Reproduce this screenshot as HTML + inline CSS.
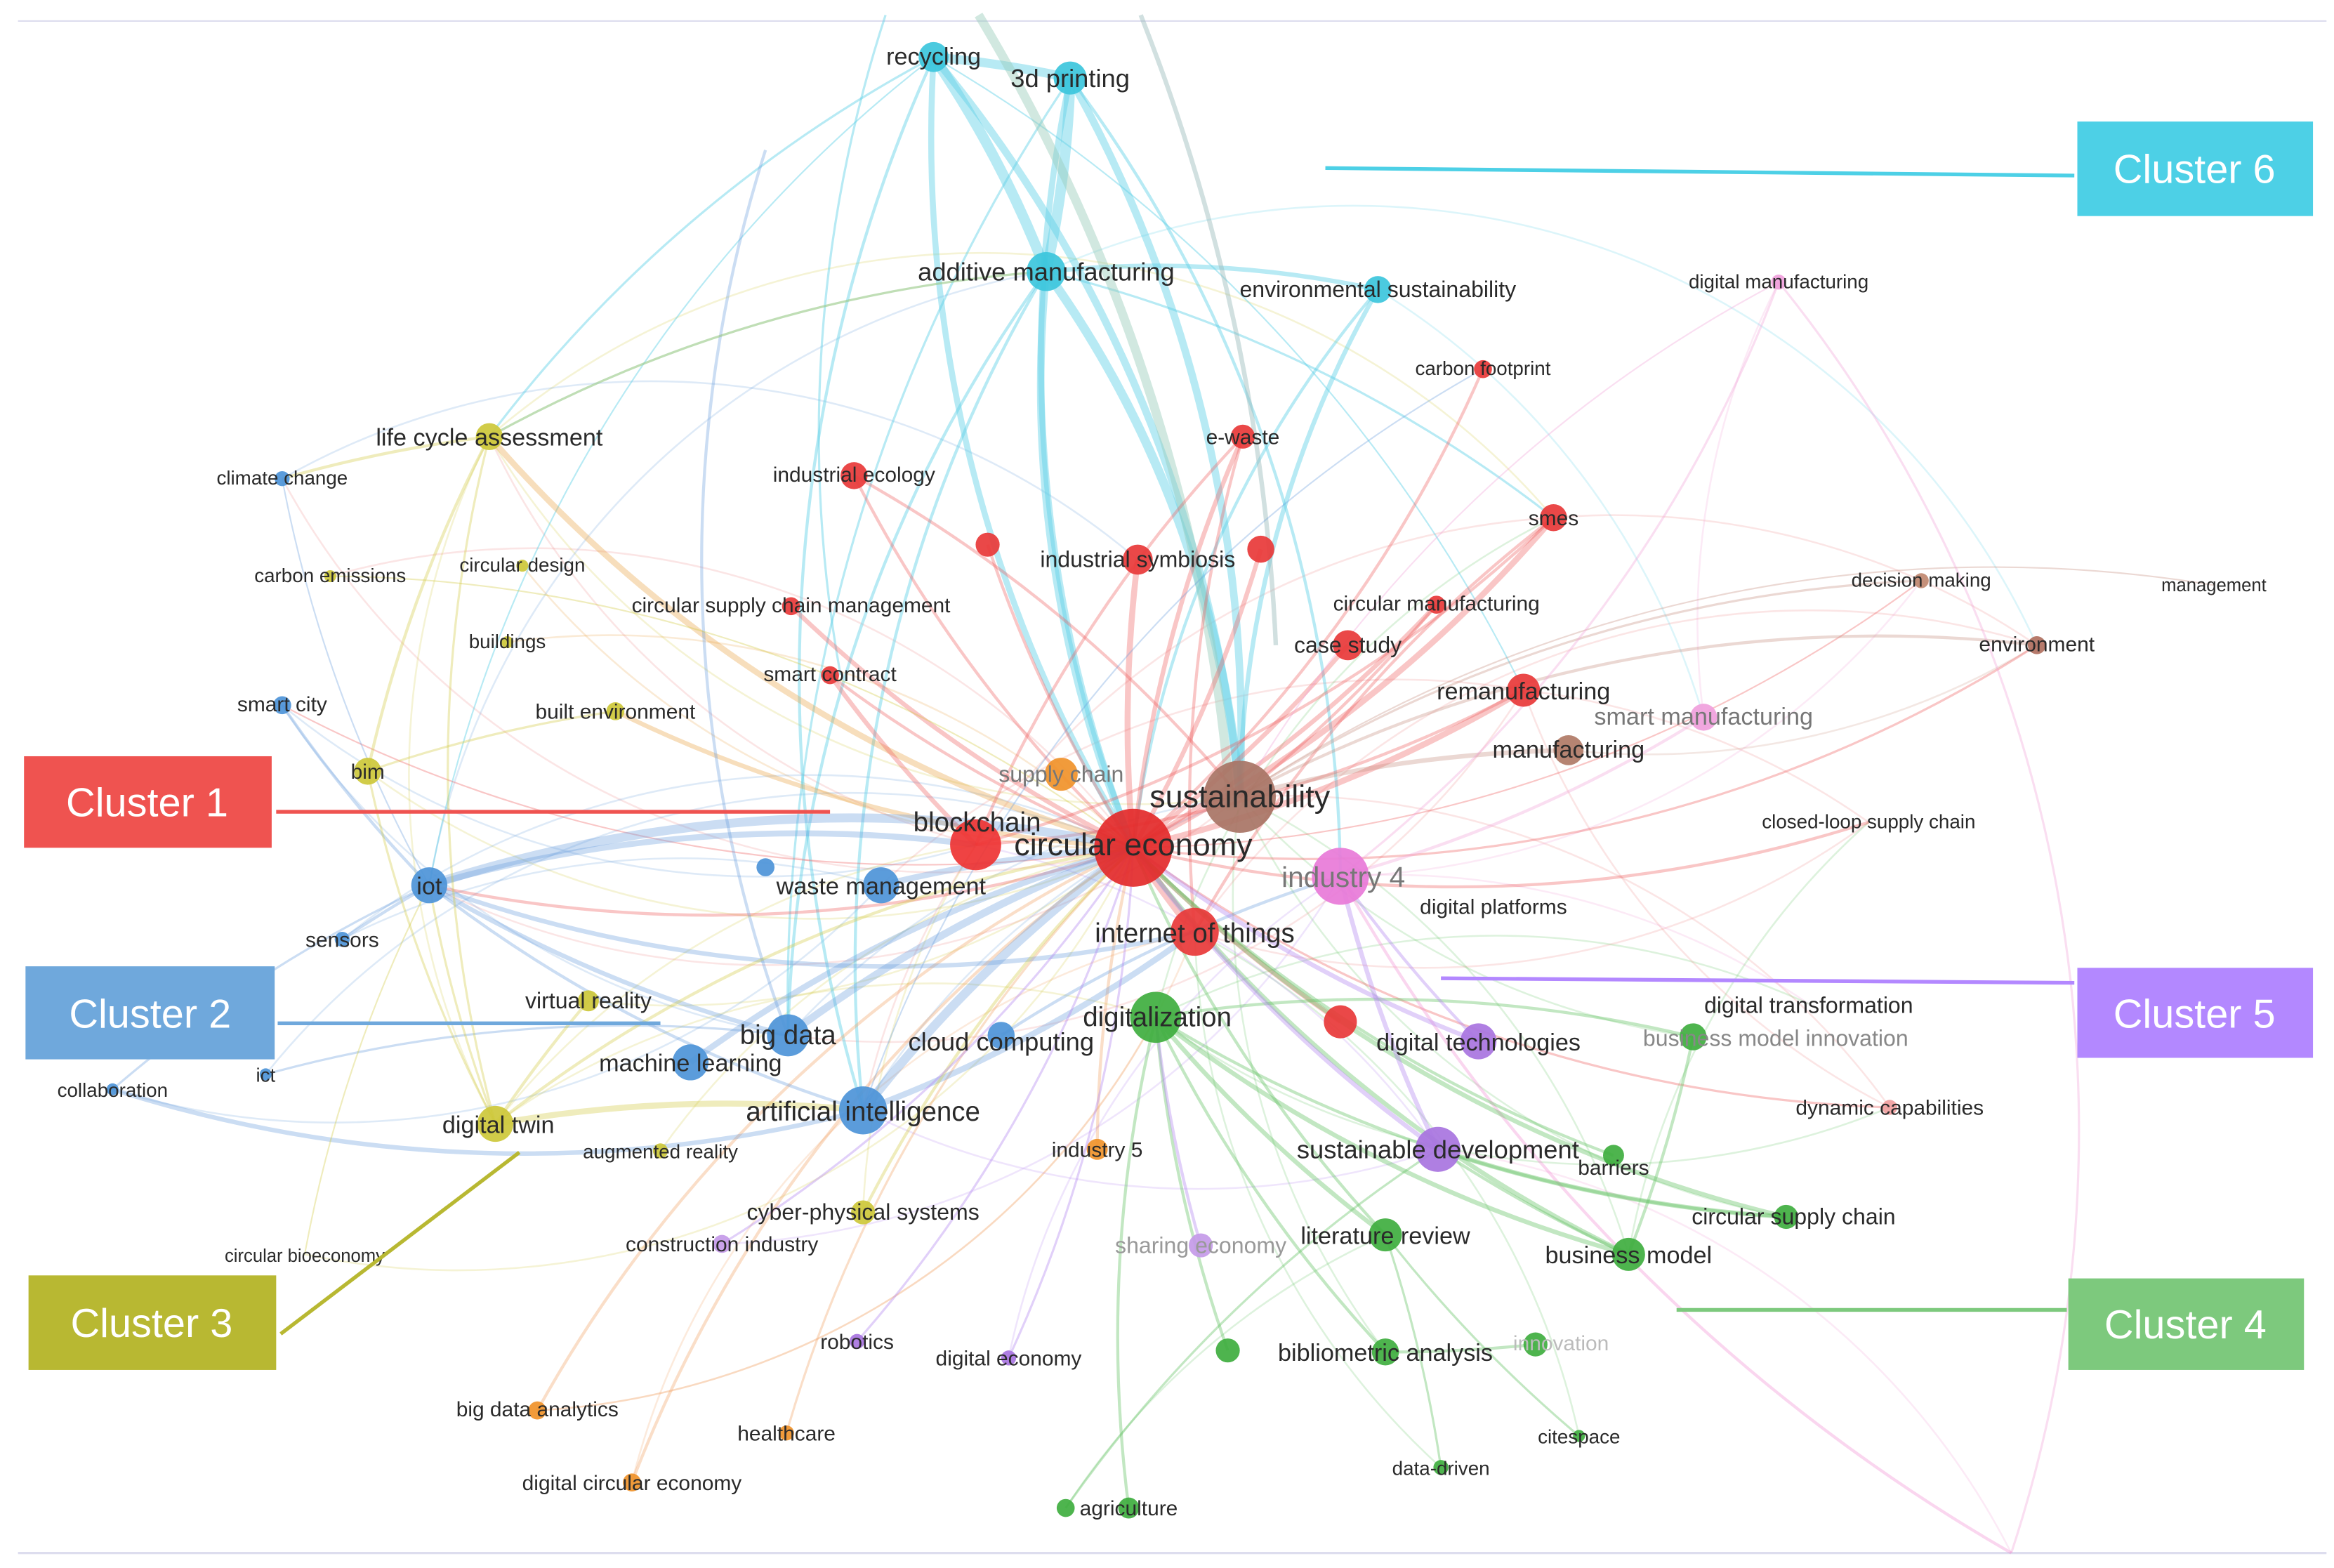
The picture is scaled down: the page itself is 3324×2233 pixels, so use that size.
<!DOCTYPE html>
<html><head><meta charset="utf-8"><style>
html,body{margin:0;padding:0;background:#fff;}
svg{display:block;}
text{font-family:"Liberation Sans",sans-serif;fill:#2a2a2a;text-anchor:middle;}
.e path{fill:none;}
</style></head><body>
<svg width="3324" height="2233" viewBox="0 0 1555 1045" preserveAspectRatio="none" xmlns="http://www.w3.org/2000/svg">
<rect width="1555" height="1045" fill="#fff"/>
<line x1="12" y1="14" x2="1550" y2="14" stroke="#dde" stroke-width="1"/>
<line x1="12" y1="1035" x2="1550" y2="1035" stroke="#dde" stroke-width="1.5"/>

<!-- extra haze edges -->
<g class="e" stroke-opacity=".22" stroke-width="1.2">
<path d="M755 565 A500 500 0 0 1 188 319" stroke="#e88"/>
<path d="M755 565 A500 500 0 0 0 220 384" stroke="#e88"/>
<path d="M755 565 A500 500 0 0 1 348 377" stroke="#e8a040"/>
<path d="M755 565 A500 500 0 0 0 338 428" stroke="#e8a040"/>
<path d="M755 565 A500 500 0 0 1 245 514" stroke="#d0c840"/>
<path d="M755 565 A500 500 0 0 0 228 626" stroke="#6a9fdc"/>
<path d="M755 565 A500 500 0 0 1 392 667" stroke="#d0c840"/>
<path d="M755 565 A500 500 0 0 0 177 716" stroke="#6a9fdc"/>
<path d="M755 565 A500 500 0 0 1 203 836" stroke="#d0c840"/>
<path d="M755 565 A500 500 0 0 0 440 767" stroke="#d0c840"/>
<path d="M826 531 A500 500 0 0 1 286 590" stroke="#e88"/>
<path d="M826 531 A500 500 0 0 0 525 690" stroke="#6a9fdc"/>
<path d="M826 531 A500 500 0 0 0 575 740" stroke="#6a9fdc"/>
<path d="M826 531 A500 500 0 0 1 326 291" stroke="#d0c840"/>
<path d="M826 531 A500 500 0 0 0 1190 811" stroke="#66c266"/>
<path d="M826 531 A500 500 0 0 1 1085 836" stroke="#66c266"/>
<path d="M826 531 A500 500 0 0 0 923 901" stroke="#66c266"/>
<path d="M826 531 A500 500 0 0 1 1259 738" stroke="#e88"/>
<path d="M826 531 A500 500 0 0 0 1128 691" stroke="#66c266"/>
<path d="M796 621 A500 500 0 0 1 1357 430" stroke="#e88"/>
<path d="M796 621 A500 500 0 0 0 1245 548" stroke="#e88"/>
<path d="M796 621 A500 500 0 0 1 358 940" stroke="#f0a060"/>
<path d="M796 621 A500 500 0 0 0 421 988" stroke="#f0a060"/>
<path d="M796 621 A500 500 0 0 1 1052 957" stroke="#66c266"/>
<path d="M796 621 A500 500 0 0 0 960 978" stroke="#66c266"/>
<path d="M893 584 A500 500 0 0 1 1205 669" stroke="#f0a0d8"/>
<path d="M893 584 A500 500 0 0 0 1280 387" stroke="#f0a0d8"/>
<path d="M893 584 A500 500 0 0 1 481 829" stroke="#b58af0"/>
<path d="M893 584 A500 500 0 0 0 672 905" stroke="#b58af0"/>
<path d="M650 563 A500 500 0 0 1 188 470" stroke="#6a9fdc"/>
<path d="M650 563 A500 500 0 0 0 330 749" stroke="#d0c840"/>
<path d="M650 563 A500 500 0 0 1 326 291" stroke="#e88"/>
<path d="M650 563 A500 500 0 0 0 575 808" stroke="#d0c840"/>
<path d="M650 563 A500 500 0 0 1 958 766" stroke="#b58af0"/>
<path d="M587 590 A500 500 0 0 1 1015 460" stroke="#e88"/>
<path d="M587 590 A500 500 0 0 0 228 626" stroke="#6a9fdc"/>
<path d="M587 590 A500 500 0 0 1 75 726" stroke="#6a9fdc"/>
<path d="M525 690 A500 500 0 0 1 188 470" stroke="#6a9fdc"/>
<path d="M525 690 A500 500 0 0 0 1015 460" stroke="#e88"/>
<path d="M575 740 A500 500 0 0 1 1035 345" stroke="#e88"/>
<path d="M575 740 A500 500 0 0 0 958 766" stroke="#b58af0"/>
<path d="M770 678 A500 500 0 0 1 1035 345" stroke="#66c266"/>
<path d="M770 678 A500 500 0 0 1 1205 669" stroke="#66c266"/>
<path d="M770 678 A500 500 0 0 0 1259 738" stroke="#66c266"/>
<path d="M770 678 A500 500 0 0 1 358 940" stroke="#f0a060"/>
<path d="M770 678 A500 500 0 0 0 330 749" stroke="#d0c840"/>
<path d="M1015 460 A500 500 0 0 1 1245 548" stroke="#e88"/>
<path d="M1015 460 A500 500 0 0 0 1259 738" stroke="#e88"/>
<path d="M1035 345 A500 500 0 0 1 1357 430" stroke="#e88"/>
<path d="M1045 500 A500 500 0 0 0 1357 430" stroke="#c79080"/>
<path d="M1185 188 A500 500 0 0 0 1135 478" stroke="#f0a0d8"/>
<path d="M918 193 A500 500 0 0 1 1135 478" stroke="#5fd0e6"/>
<path d="M697 181 A500 500 0 0 1 1357 430" stroke="#5fd0e6"/>
<path d="M326 291 A500 500 0 0 1 1035 345" stroke="#d0c840"/>
<path d="M188 319 A500 500 0 0 1 758 373" stroke="#6a9fdc"/>
<path d="M286 590 A500 500 0 0 1 697 181" stroke="#6a9fdc"/>
<path d="M330 749 A500 500 0 0 1 326 291" stroke="#d0c840"/>
<path d="M958 766 A500 500 0 0 1 1340 1035" stroke="#f0a0d8"/>
<path d="M923 823 A500 500 0 0 0 710 1005" stroke="#66c266"/>
<path d="M1085 836 A500 500 0 0 1 1245 548" stroke="#66c266"/>
</g>

<!-- cyan edges -->
<g class="e" stroke="#5fd0e6" stroke-opacity=".45">
<path d="M622 38 A700 700 0 0 1 713 52" stroke-width="6"/>
<path d="M622 38 A700 700 0 0 1 697 181" stroke-width="7"/>
<path d="M713 52 A700 700 0 0 1 697 181" stroke-width="7"/>
<path d="M622 38 A900 900 0 0 1 826 531" stroke-width="5"/>
<path d="M713 52 A900 900 0 0 1 826 531" stroke-width="5"/>
<path d="M697 181 A700 700 0 0 1 826 531" stroke-width="6"/>
<path d="M622 38 A900 900 0 0 0 755 565" stroke-width="4"/>
<path d="M713 52 A900 900 0 0 0 755 565" stroke-width="4"/>
<path d="M697 181 A800 800 0 0 0 755 565" stroke-width="5"/>
<path d="M697 181 A700 700 0 0 1 918 193" stroke-width="3"/>
<path d="M918 193 A700 700 0 0 0 826 531" stroke-width="3"/>
<path d="M918 193 A700 700 0 0 0 755 565" stroke-width="2"/>
<path d="M622 38 A900 900 0 0 0 326 291" stroke-width="1.5"/>
<path d="M622 38 A900 900 0 0 0 286 590" stroke-width="1"/>
<path d="M713 52 A900 900 0 0 1 893 584" stroke-width="2"/>
<path d="M697 181 A900 900 0 0 0 525 690" stroke-width="2"/>
<path d="M697 181 A900 900 0 0 0 575 740" stroke-width="2"/>
<path d="M622 38 A1000 1000 0 0 0 575 740" stroke-width="2"/>
<path d="M713 52 A1100 1100 0 0 0 525 690" stroke-width="1.5"/>
<path d="M697 181 A900 900 0 0 1 1035 345" stroke-width="1.5"/>
<path d="M697 181 A900 900 0 0 0 326 291" stroke-width="1.5"/>
<path d="M622 38 A1000 1000 0 0 1 1015 460" stroke-width="1"/>
<path d="M652 10 A1200 1200 0 0 1 820 540" stroke="#9cb" stroke-width="6"/>
<path d="M760 10 A1300 1300 0 0 1 850 430" stroke="#9bb" stroke-width="3"/>
<path d="M590 10 A900 900 0 0 0 560 450" stroke-width="1.5"/>
</g>
<!-- red edges -->
<g class="e" stroke="#ee5b5b" stroke-opacity=".35">
<path d="M755 565 A900 900 0 0 1 828 291" stroke-width="3"/>
<path d="M755 565 A900 900 0 0 1 569 317" stroke-width="2"/>
<path d="M755 565 A900 900 0 0 1 758 373" stroke-width="4"/>
<path d="M755 565 A900 900 0 0 1 658 363" stroke-width="2"/>
<path d="M755 565 A900 900 0 0 0 840 366" stroke-width="3"/>
<path d="M755 565 A900 900 0 0 0 1035 345" stroke-width="4"/>
<path d="M755 565 A900 900 0 0 0 988 246" stroke-width="2"/>
<path d="M755 565 A900 900 0 0 0 957 403" stroke-width="3"/>
<path d="M755 565 A900 900 0 0 0 898 430" stroke-width="3"/>
<path d="M755 565 A900 900 0 0 0 1015 460" stroke-width="4"/>
<path d="M755 565 A900 900 0 0 1 553 450" stroke-width="2"/>
<path d="M755 565 A900 900 0 0 1 527 404" stroke-width="3"/>
<path d="M755 565 A900 900 0 0 1 326 291" stroke="#e8a040" stroke-width="4"/>
<path d="M755 565 A900 900 0 0 1 410 474" stroke="#e8a040" stroke-width="3"/>
<path d="M755 565 A900 900 0 0 0 796 621" stroke-width="6"/>
<path d="M755 565 A900 900 0 0 0 893 681" stroke-width="3"/>
<path d="M755 565 A900 900 0 0 0 1245 548" stroke-width="2"/>
<path d="M755 565 A900 900 0 0 0 1357 430" stroke-width="1.5"/>
<path d="M755 565 A900 900 0 0 0 1280 387" stroke-width="1"/>
<path d="M755 565 A900 900 0 0 0 1259 738" stroke-width="1.5"/>
<path d="M755 565 A900 900 0 0 1 286 590" stroke-width="2"/>
<path d="M755 565 A900 900 0 0 1 188 470" stroke-width="1"/>
<path d="M755 565 A900 900 0 0 0 358 940" stroke="#f0a060" stroke-width="2"/>
<path d="M755 565 A900 900 0 0 0 421 988" stroke="#f0a060" stroke-width="2"/>
<path d="M755 565 A900 900 0 0 0 524 955" stroke="#f0a060" stroke-width="1.5"/>
<path d="M755 565 A900 900 0 0 0 731 766" stroke="#f0a060" stroke-width="2"/>
<path d="M650 563 A900 900 0 0 1 553 450" stroke-width="3"/>
<path d="M650 563 A900 900 0 0 0 1015 460" stroke-width="2"/>
<path d="M650 563 A900 900 0 0 1 828 291" stroke-width="2"/>
<path d="M650 563 A900 900 0 0 0 1035 345" stroke-width="2"/>
<path d="M796 621 A900 900 0 0 1 1035 345" stroke-width="2"/>
<path d="M796 621 A900 900 0 0 1 828 291" stroke-width="2"/>
<path d="M826 531 A900 900 0 0 1 1357 430" stroke="#c79080" stroke-width="2"/>
<path d="M826 531 A900 900 0 0 1 1280 387" stroke="#c79080" stroke-width="1.5"/>
<path d="M826 531 A900 900 0 0 1 1475 390" stroke="#c79080" stroke-width="1"/>
<path d="M826 531 A900 900 0 0 1 1045 500" stroke="#c79080" stroke-width="3"/>
<path d="M826 531 A900 900 0 0 0 569 317" stroke-width="2"/>
<path d="M826 531 A900 900 0 0 0 957 403" stroke-width="2"/>
<path d="M826 531 A900 900 0 0 1 1185 188" stroke="#f0a0d8" stroke-width="1"/>
<path d="M893 584 A900 900 0 0 0 1185 188" stroke="#f0a0d8" stroke-width="1.5"/>
<path d="M893 584 A900 900 0 0 0 1135 478" stroke="#f0a0d8" stroke-width="2"/>
<path d="M893 584 A1200 1200 0 0 0 1340 1035" stroke="#f08ad0" stroke-width="2"/>
<path d="M1185 188 A900 900 0 0 1 1340 1035" stroke="#f0a0d8" stroke-width="1.5"/>
</g>
<!-- blue / yellow edges -->
<g class="e" stroke="#6a9fdc" stroke-opacity=".35">
<path d="M286 590 A900 900 0 0 1 755 565" stroke-width="6"/>
<path d="M286 590 A900 900 0 0 1 650 563" stroke-width="4"/>
<path d="M286 590 A900 900 0 0 0 525 690" stroke-width="3"/>
<path d="M286 590 A900 900 0 0 0 575 740" stroke-width="2"/>
<path d="M286 590 A900 900 0 0 1 188 470" stroke-width="2"/>
<path d="M286 590 A900 900 0 0 0 228 626" stroke-width="2"/>
<path d="M286 590 A900 900 0 0 0 796 621" stroke-width="3"/>
<path d="M286 590 A900 900 0 0 1 188 319" stroke-width="1"/>
<path d="M75 726 A900 900 0 0 0 575 740" stroke-width="3"/>
<path d="M75 726 A900 900 0 0 1 286 590" stroke-width="1.5"/>
<path d="M177 716 A900 900 0 0 1 525 690" stroke-width="1.5"/>
<path d="M525 690 A900 900 0 0 1 755 565" stroke-width="5"/>
<path d="M575 740 A900 900 0 0 1 755 565" stroke-width="6"/>
<path d="M460 708 A900 900 0 0 1 755 565" stroke-width="4"/>
<path d="M575 740 A900 900 0 0 0 796 621" stroke-width="4"/>
<path d="M587 590 A900 900 0 0 1 755 565" stroke-width="4"/>
<path d="M525 690 A900 900 0 0 1 510 100" stroke-width="2"/>
<path d="M575 740 A900 900 0 0 1 988 246" stroke-width="1"/>
<path d="M667 690 A900 900 0 0 1 893 584" stroke-width="2"/>
<path d="M330 749 A900 900 0 0 1 575 740" stroke="#d0c840" stroke-width="4"/>
<path d="M330 749 A900 900 0 0 1 392 667" stroke="#d0c840" stroke-width="2"/>
<path d="M330 749 A900 900 0 0 1 755 565" stroke="#d0c840" stroke-width="2"/>
<path d="M330 749 A900 900 0 0 1 286 590" stroke="#d0c840" stroke-width="1.5"/>
<path d="M326 291 A900 900 0 0 0 188 319" stroke="#d0c840" stroke-width="2"/>
<path d="M326 291 A900 900 0 0 0 245 514" stroke="#d0c840" stroke-width="2"/>
<path d="M326 291 A900 900 0 0 0 330 749" stroke="#d0c840" stroke-width="1.5"/>
<path d="M245 514 A900 900 0 0 0 330 749" stroke="#d0c840" stroke-width="1.5"/>
<path d="M245 514 A900 900 0 0 1 410 474" stroke="#d0c840" stroke-width="1.5"/>
<path d="M326 291 A900 900 0 0 1 697 181" stroke="#d0c840" stroke-width="1.5"/>
<path d="M220 384 A900 900 0 0 1 755 565" stroke="#d0c840" stroke-width="1"/>
<path d="M203 836 A900 900 0 0 1 286 590" stroke="#d0c840" stroke-width="1"/>
<path d="M575 808 A900 900 0 0 1 755 565" stroke="#d0c840" stroke-width="2"/>
</g>
<!-- green / purple edges -->
<g class="e" stroke="#66c266" stroke-opacity=".4">
<path d="M770 678 A900 900 0 0 0 923 823" stroke-width="3"/>
<path d="M770 678 A900 900 0 0 0 923 901" stroke-width="2"/>
<path d="M770 678 A900 900 0 0 0 1085 836" stroke-width="3"/>
<path d="M770 678 A900 900 0 0 0 1190 811" stroke-width="2"/>
<path d="M770 678 A900 900 0 0 1 1128 691" stroke-width="2"/>
<path d="M770 678 A900 900 0 0 0 752 1005" stroke-width="2"/>
<path d="M770 678 A900 900 0 0 0 818 900" stroke-width="2"/>
<path d="M755 565 A900 900 0 0 0 923 823" stroke-width="2"/>
<path d="M755 565 A900 900 0 0 0 1085 836" stroke-width="3"/>
<path d="M755 565 A900 900 0 0 0 1190 811" stroke-width="3"/>
<path d="M755 565 A900 900 0 0 0 1075 770" stroke-width="2"/>
<path d="M923 823 A900 900 0 0 0 1052 957" stroke-width="1.5"/>
<path d="M923 823 A900 900 0 0 1 960 978" stroke-width="1.5"/>
<path d="M923 901 A900 900 0 0 0 1023 896" stroke-width="2"/>
<path d="M958 766 A900 900 0 0 0 1190 811" stroke-width="3"/>
<path d="M958 766 A900 900 0 0 0 1085 836" stroke-width="2"/>
<path d="M1085 836 A900 900 0 0 0 1128 691" stroke-width="2"/>
<path d="M958 766 A900 900 0 0 0 710 1005" stroke-width="1.5"/>
<path d="M755 565 A900 900 0 0 0 985 694" stroke="#b58af0" stroke-width="3"/>
<path d="M755 565 A900 900 0 0 0 958 766" stroke="#b58af0" stroke-width="3"/>
<path d="M893 584 A900 900 0 0 0 958 766" stroke="#b58af0" stroke-width="3"/>
<path d="M893 584 A900 900 0 0 0 985 694" stroke="#b58af0" stroke-width="2"/>
<path d="M770 678 A900 900 0 0 0 800 830" stroke="#b58af0" stroke-width="2"/>
<path d="M755 565 A900 900 0 0 1 481 829" stroke="#b58af0" stroke-width="1.5"/>
<path d="M755 565 A900 900 0 0 1 571 894" stroke="#b58af0" stroke-width="1.5"/>
<path d="M755 565 A900 900 0 0 1 672 905" stroke="#b58af0" stroke-width="1.5"/>
</g>

<!-- nodes -->
<g fill-opacity=".92">
<circle cx="622" cy="38" r="10" fill="#3cc6dc"/>
<circle cx="713" cy="52" r="11" fill="#3cc6dc"/>
<circle cx="697" cy="181" r="13" fill="#3cc6dc"/>
<circle cx="918" cy="193" r="9" fill="#3cc6dc"/>
<circle cx="1185" cy="188" r="5" fill="#f0a0dc"/>
<circle cx="988" cy="246" r="6" fill="#e83838"/>
<circle cx="828" cy="291" r="8" fill="#e83838"/>
<circle cx="569" cy="317" r="9" fill="#e83838"/>
<circle cx="326" cy="291" r="9" fill="#cdc83a"/>
<circle cx="188" cy="319" r="5" fill="#4d94d8"/>
<circle cx="220" cy="384" r="4" fill="#cdc83a"/>
<circle cx="348" cy="377" r="4" fill="#cdc83a"/>
<circle cx="338" cy="428" r="4" fill="#cdc83a"/>
<circle cx="527" cy="404" r="6" fill="#e83838"/>
<circle cx="658" cy="363" r="8" fill="#e83838"/>
<circle cx="758" cy="373" r="10" fill="#e83838"/>
<circle cx="840" cy="366" r="9" fill="#e83838"/>
<circle cx="1035" cy="345" r="9" fill="#e83838"/>
<circle cx="1280" cy="387" r="5" fill="#c08870"/>
<circle cx="1357" cy="430" r="6" fill="#b07060"/>
<circle cx="957" cy="403" r="6" fill="#e83838"/>
<circle cx="898" cy="430" r="10" fill="#e83838"/>
<circle cx="553" cy="450" r="6" fill="#e83838"/>
<circle cx="188" cy="470" r="6" fill="#4d94d8"/>
<circle cx="410" cy="474" r="6" fill="#cdc83a"/>
<circle cx="1015" cy="460" r="11" fill="#e83838"/>
<circle cx="1135" cy="478" r="9" fill="#f0a0dc"/>
<circle cx="1045" cy="500" r="10" fill="#b07a66"/>
<circle cx="245" cy="514" r="9" fill="#cdc83a"/>
<circle cx="707" cy="516" r="11" fill="#f0922a"/>
<circle cx="826" cy="531" r="24" fill="#a87465"/>
<circle cx="650" cy="563" r="17" fill="#e33"/>
<circle cx="755" cy="565" r="26" fill="#e32a2a"/>
<circle cx="893" cy="584" r="19" fill="#e87ad8"/>
<circle cx="286" cy="590" r="12" fill="#4d94d8"/>
<circle cx="510" cy="578" r="6" fill="#4d94d8"/>
<circle cx="587" cy="590" r="12" fill="#4d94d8"/>
<circle cx="228" cy="626" r="5" fill="#4d94d8"/>
<circle cx="796" cy="621" r="16" fill="#e83838"/>
<circle cx="392" cy="667" r="7" fill="#cdc83a"/>
<circle cx="525" cy="690" r="14" fill="#4d94d8"/>
<circle cx="667" cy="690" r="9" fill="#4d94d8"/>
<circle cx="770" cy="678" r="17" fill="#3fae3f"/>
<circle cx="893" cy="681" r="11" fill="#e83838"/>
<circle cx="985" cy="694" r="12" fill="#a874e0"/>
<circle cx="1128" cy="691" r="9" fill="#3fae3f"/>
<circle cx="460" cy="708" r="12" fill="#4d94d8"/>
<circle cx="177" cy="716" r="4" fill="#4d94d8"/>
<circle cx="75" cy="726" r="4" fill="#4d94d8"/>
<circle cx="575" cy="740" r="16" fill="#4d94d8"/>
<circle cx="330" cy="749" r="12" fill="#cdc83a"/>
<circle cx="1259" cy="738" r="5" fill="#f0a0a0"/>
<circle cx="440" cy="767" r="5" fill="#cdc83a"/>
<circle cx="731" cy="766" r="7" fill="#f0922a"/>
<circle cx="958" cy="766" r="15" fill="#a874e0"/>
<circle cx="1075" cy="770" r="7" fill="#3fae3f"/>
<circle cx="575" cy="808" r="8" fill="#cdc83a"/>
<circle cx="481" cy="829" r="6" fill="#c49ae8"/>
<circle cx="800" cy="830" r="8" fill="#c49ae8"/>
<circle cx="923" cy="823" r="11" fill="#3fae3f"/>
<circle cx="1190" cy="811" r="8" fill="#3fae3f"/>
<circle cx="1085" cy="836" r="11" fill="#3fae3f"/>
<circle cx="571" cy="894" r="5" fill="#a874e0"/>
<circle cx="672" cy="905" r="5" fill="#a874e0"/>
<circle cx="818" cy="900" r="8" fill="#3fae3f"/>
<circle cx="923" cy="901" r="9" fill="#3fae3f"/>
<circle cx="1023" cy="896" r="8" fill="#3fae3f"/>
<circle cx="358" cy="940" r="6" fill="#f0922a"/>
<circle cx="524" cy="955" r="5" fill="#f0922a"/>
<circle cx="1052" cy="957" r="4" fill="#3fae3f"/>
<circle cx="960" cy="978" r="5" fill="#3fae3f"/>
<circle cx="421" cy="988" r="6" fill="#f0922a"/>
<circle cx="752" cy="1005" r="7" fill="#3fae3f"/>
<circle cx="710" cy="1005" r="6" fill="#3fae3f"/>
</g>

<!-- labels -->
<g>
<text x="622" y="43" font-size="16">recycling</text>
<text x="713" y="58" font-size="17">3d printing</text>
<text x="697" y="187" font-size="17">additive manufacturing</text>
<text x="918" y="198" font-size="15">environmental sustainability</text>
<text x="1185" y="192" font-size="13">digital manufacturing</text>
<text x="988" y="250" font-size="13">carbon footprint</text>
<text x="828" y="296" font-size="14">e-waste</text>
<text x="569" y="321" font-size="14">industrial ecology</text>
<text x="326" y="297" font-size="16">life cycle assessment</text>
<text x="188" y="323" font-size="13">climate change</text>
<text x="220" y="388" font-size="13">carbon emissions</text>
<text x="348" y="381" font-size="13">circular design</text>
<text x="338" y="432" font-size="13">buildings</text>
<text x="527" y="408" font-size="14">circular supply chain management</text>
<text x="758" y="378" font-size="15">industrial symbiosis</text>
<text x="1035" y="350" font-size="14">smes</text>
<text x="1280" y="391" font-size="13">decision making</text>
<text x="1475" y="394" font-size="12">management</text>
<text x="1357" y="434" font-size="14">environment</text>
<text x="957" y="407" font-size="14">circular manufacturing</text>
<text x="898" y="435" font-size="15">case study</text>
<text x="553" y="454" font-size="14">smart contract</text>
<text x="188" y="474" font-size="14">smart city</text>
<text x="410" y="479" font-size="14">built environment</text>
<text x="1015" y="466" font-size="16">remanufacturing</text>
<text x="1135" y="483" font-size="16" style="fill:#777">smart manufacturing</text>
<text x="1045" y="505" font-size="16">manufacturing</text>
<text x="245" y="519" font-size="14">bim</text>
<text x="707" y="521" font-size="15" style="fill:#777">supply chain</text>
<text x="826" y="538" font-size="21">sustainability</text>
<text x="651" y="554" font-size="18">blockchain</text>
<text x="755" y="570" font-size="21">circular economy</text>
<text x="895" y="591" font-size="19" style="fill:#777">industry 4</text>
<text x="1245" y="552" font-size="13">closed-loop supply chain</text>
<text x="286" y="596" font-size="16">iot</text>
<text x="587" y="596" font-size="16">waste management</text>
<text x="995" y="609" font-size="14">digital platforms</text>
<text x="228" y="631" font-size="14">sensors</text>
<text x="796" y="628" font-size="18">internet of things</text>
<text x="392" y="672" font-size="15">virtual reality</text>
<text x="525" y="696" font-size="18">big data</text>
<text x="667" y="700" font-size="17">cloud computing</text>
<text x="771" y="684" font-size="18">digitalization</text>
<text x="1205" y="675" font-size="15">digital transformation</text>
<text x="985" y="700" font-size="16">digital technologies</text>
<text x="1183" y="697" font-size="15" style="fill:#888">business model innovation</text>
<text x="460" y="714" font-size="16">machine learning</text>
<text x="177" y="721" font-size="13">ict</text>
<text x="75" y="731" font-size="13">collaboration</text>
<text x="575" y="747" font-size="18">artificial intelligence</text>
<text x="332" y="755" font-size="16">digital twin</text>
<text x="1259" y="743" font-size="14">dynamic capabilities</text>
<text x="440" y="772" font-size="13">augmented reality</text>
<text x="731" y="771" font-size="14">industry 5</text>
<text x="958" y="772" font-size="17">sustainable development</text>
<text x="1075" y="783" font-size="14">barriers</text>
<text x="575" y="813" font-size="15">cyber-physical systems</text>
<text x="203" y="841" font-size="12">circular bioeconomy</text>
<text x="481" y="834" font-size="14">construction industry</text>
<text x="800" y="835" font-size="15" style="fill:#999">sharing economy</text>
<text x="923" y="829" font-size="16">literature review</text>
<text x="1195" y="816" font-size="15">circular supply chain</text>
<text x="1085" y="842" font-size="16">business model</text>
<text x="571" y="899" font-size="14">robotics</text>
<text x="672" y="910" font-size="14">digital economy</text>
<text x="923" y="907" font-size="16">bibliometric analysis</text>
<text x="1040" y="900" font-size="14" style="fill:#bbb">innovation</text>
<text x="358" y="944" font-size="14">big data analytics</text>
<text x="524" y="960" font-size="14">healthcare</text>
<text x="1052" y="962" font-size="13">citespace</text>
<text x="960" y="983" font-size="13">data-driven</text>
<text x="421" y="993" font-size="14">digital circular economy</text>
<text x="752" y="1010" font-size="14">agriculture</text>
</g>

<!-- cluster callouts -->
<g stroke-width="2.5">
<line x1="883" y1="112" x2="1382" y2="117" stroke="#4dd0e6"/>
<line x1="184" y1="541" x2="553" y2="541" stroke="#ef5350"/>
<line x1="185" y1="682" x2="440" y2="682" stroke="#6fa8dc"/>
<line x1="960" y1="652" x2="1382" y2="655" stroke="#b388ff"/>
<line x1="187" y1="889" x2="346" y2="768" stroke="#b8b832"/>
<line x1="1117" y1="873" x2="1377" y2="873" stroke="#7dc97d"/>
</g>
<rect x="1384" y="81" width="157" height="63" fill="#4dd0e6"/>
<rect x="16" y="504" width="165" height="61" fill="#ef5350"/>
<rect x="17" y="644" width="166" height="62" fill="#6fa8dc"/>
<rect x="1384" y="645" width="157" height="60" fill="#b388ff"/>
<rect x="19" y="850" width="165" height="63" fill="#b8b832"/>
<rect x="1378" y="852" width="157" height="61" fill="#7dc97d"/>
<g font-size="27">
<text x="1462" y="122" style="fill:#fff">Cluster 6</text>
<text x="98" y="544" style="fill:#fff">Cluster 1</text>
<text x="100" y="685" style="fill:#fff">Cluster 2</text>
<text x="1462" y="685" style="fill:#fff">Cluster 5</text>
<text x="101" y="891" style="fill:#fff">Cluster 3</text>
<text x="1456" y="892" style="fill:#fff">Cluster 4</text>
</g>
</svg>
</body></html>
